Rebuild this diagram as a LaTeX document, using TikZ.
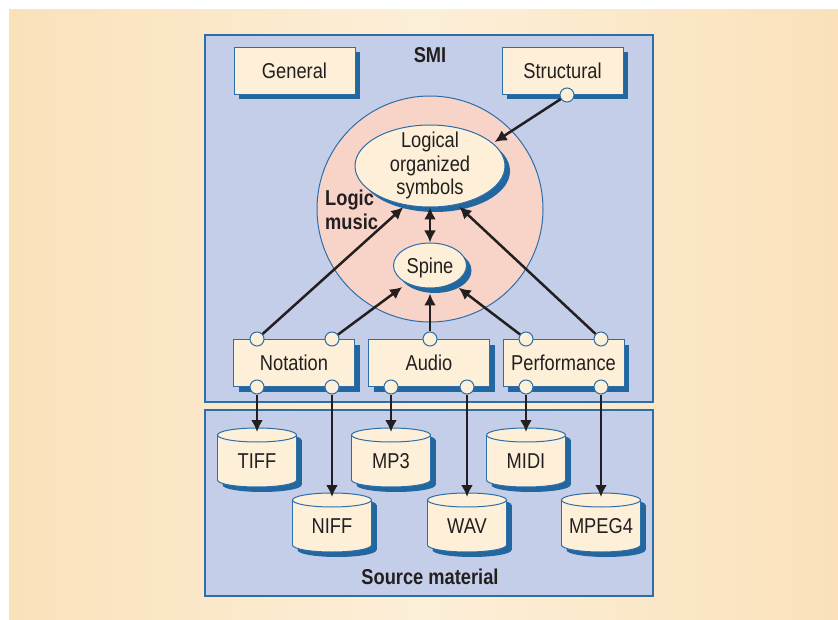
\documentclass[tikz,border=0pt]{standalone}
\usepackage{fontspec}
\setmainfont{Liberation Sans}[FakeStretch=0.85]
\usetikzlibrary{shadows,arrows.meta,shapes.geometric}
\definecolor{bgedge}{HTML}{FAE1BA}
\definecolor{bgmid}{HTML}{FCEFD8}
\definecolor{panel}{HTML}{C4CEE8}
\definecolor{bline}{HTML}{2B6EA8}
\definecolor{shblue}{HTML}{2367A1}
\definecolor{cream}{HTML}{FEF0D8}
\definecolor{pinkfill}{HTML}{F8D4C8}
\definecolor{ink}{HTML}{231F20}
\tikzset{
  lbl/.style={font=\fontsize{21.5}{23.5}\selectfont, text=ink, inner sep=0pt},
  boldlbl/.style={font=\fontsize{21.5}{23.5}\selectfont\bfseries, text=ink, inner sep=0pt},
  shd/.style={drop shadow={shadow xshift=5pt,shadow yshift=-5pt,fill=shblue,opacity=1}},
  modbox/.style={rectangle, draw=bline, line width=1pt, fill=cream, shd,
    minimum width=121pt, minimum height=47pt, inner sep=0pt,
    font=\fontsize{21.5}{23.5}\selectfont, text=ink, text height=15.4pt, text depth=0pt},
  oval/.style={ellipse, draw=bline, line width=1pt, fill=cream, shd, inner sep=0pt,
    font=\fontsize{21.5}{23.5}\selectfont, text=ink, text height=15.4pt, text depth=0pt},
  port/.style={circle, draw=bline, line width=1pt, fill=cream, minimum size=14pt, inner sep=0pt},
  link/.style={draw=ink, line width=2.5pt, -{Latex[length=12pt,width=12pt]}},
  dlink/.style={draw=ink, line width=2.5pt, {Latex[length=12pt,width=12pt]}-{Latex[length=12pt,width=12pt]}},
  cylline/.style={draw=bline, line width=1pt},
}
\newcommand{\dbcyl}[4]{%
  \begin{scope}[shift={(#2,#3)}]
    \fill[shblue] (-34.5,5) rectangle (44.5,50);
    \fill[shblue] (5,5) ellipse [x radius=39.5pt, y radius=7pt];
    \fill[shblue] (5,50) ellipse [x radius=39.5pt, y radius=7pt];
    \draw[cylline, fill=cream] (0,45) ellipse [x radius=39.5pt, y radius=7pt];
    \fill[cream] (-39.5,0) rectangle (39.5,45);
    \draw[cylline] (-39.5,0) -- (-39.5,45) (39.5,0) -- (39.5,45);
    \draw[cylline, fill=cream] (0,0) ellipse [x radius=39.5pt, y radius=7pt];
    \node[lbl, anchor=base] (#1) at (0,33.5) {#4};
    \coordinate (#1top) at (0,-3);
  \end{scope}}
\begin{document}
\begin{tikzpicture}[x=1pt,y=-1pt]
\useasboundingbox (0,0) rectangle (838,620);
\fill[white] (0,0) rectangle (838,620);
\shade[left color=bgedge, right color=bgedge, middle color=bgmid] (9,10) rectangle (838,620);

% panels
\draw[draw=bline, fill=panel, line width=1.5pt] (205,35) rectangle (653,402);
\draw[draw=bline, fill=panel, line width=1.5pt] (205,410) rectangle (653,596);
\node[boldlbl, anchor=base] (smi) at (430,63) {SMI};
\node[boldlbl, anchor=base] (src) at (430,584) {Source material};

% logic music circle
\node[circle, draw=bline, fill=pinkfill, line width=1pt, minimum size=226pt, inner sep=0pt] (lm) at (430,209) {};
\node[boldlbl, anchor=base west] (lm1) at (325,206) {Logic};
\node[boldlbl, anchor=base west] (lm2) at (325,230) {music};

% boxes
\node[modbox] (gen) at (294.5,71) {General};
\node[modbox] (str) at (562.5,71) {Structural};
\node[modbox] (nota) at (294,363) {Notation};
\node[modbox] (aud) at (429,363) {Audio};
\node[modbox] (perf) at (563.5,363) {Performance};

% ellipses
\node[oval, minimum width=150pt, minimum height=82pt] (lg) at (430,166) {};
\node[lbl, anchor=base] (lgt1) at (430,148) {Logical};
\node[lbl, anchor=base] (lgt2) at (430,171.5) {organized};
\node[lbl, anchor=base] (lgt3) at (430,195) {symbols};
\node[oval, minimum width=73pt, minimum height=45pt] (sp) at (430,265.5) {Spine};

% ports
\node[port] (stp) at (567,95) {};
\node[port] (nt1) at (257,339) {};
\node[port] (nt2) at (332,339) {};
\node[port] (nb1) at (257,387) {};
\node[port] (nb2) at (332,387) {};
\node[port] (at1) at (430,339) {};
\node[port] (ab1) at (391,387) {};
\node[port] (ab2) at (467,387) {};
\node[port] (pt1) at (526,339) {};
\node[port] (pt2) at (601,339) {};
\node[port] (pb1) at (526,387) {};
\node[port] (pb2) at (601,387) {};

% cylinders
\dbcyl{tiff}{257}{435}{TIFF}
\dbcyl{niff}{332}{500}{NIFF}
\dbcyl{mpthree}{391}{435}{MP3}
\dbcyl{wav}{467}{500}{WAV}
\dbcyl{midi}{526}{435}{MIDI}
\dbcyl{mpeg}{601}{500}{MPEG4}

% connectors up
\draw[link, shorten >=2pt] (stp) -- (lg.20);
\draw[link, shorten >=3pt] (nt1) -- (lg.238);
\draw[link, shorten >=3pt] (pt2) -- (lg.305);
\draw[link, shorten >=6pt] (nt2) -- (sp.218);
\draw[link, shorten >=5pt] (at1) -- (sp.south);
\draw[link, shorten >=7pt] (pt1) -- (sp.322);
\draw[dlink] (lg.south) -- (sp.north);

% connectors down
\draw[link] (nb1) -- (tifftop);
\draw[link] (nb2) -- (nifftop);
\draw[link] (ab1) -- (mpthreetop);
\draw[link] (ab2) -- (wavtop);
\draw[link] (pb1) -- (miditop);
\draw[link] (pb2) -- (mpegtop);
\end{tikzpicture}
\end{document}
